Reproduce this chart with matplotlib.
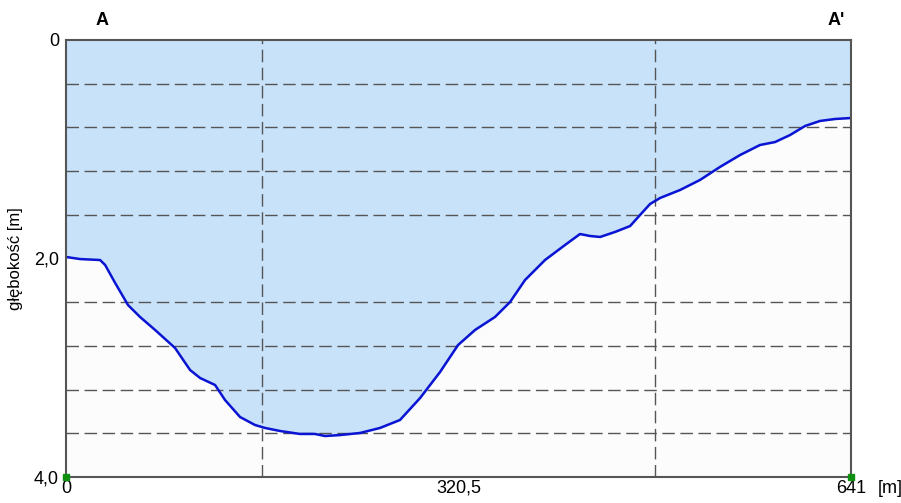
import matplotlib
matplotlib.use("Agg")
import matplotlib.pyplot as plt
from matplotlib.ticker import MultipleLocator

plt.rcParams['font.family'] = ['Liberation Sans', 'DejaVu Sans']

# profile A - A' : distance [m] vs depth [m]
distance = [0, 11.4, 27.8, 31.9, 40.1, 50.6, 60.4, 72.7, 89.0, 101.3, 109.5,
            121.7, 129.8, 142.1, 154.3, 162.5, 174.8, 191.1, 203.3, 211.5,
            223.7, 240.1, 256.4, 272.7, 289.1, 305.4, 320.1, 334.0, 350.3,
            362.6, 374.8, 391.1, 407.5, 419.7, 427.9, 436.1, 448.3, 460.6,
            468.7, 476.9, 485.1, 501.4, 517.7, 534.0, 550.4, 566.7, 579.0,
            591.2, 603.5, 615.7, 628.0, 641.0]
depth = [1.986, 2.005, 2.014, 2.059, 2.224, 2.426, 2.535, 2.654, 2.819, 3.021,
         3.094, 3.158, 3.295, 3.451, 3.524, 3.551, 3.579, 3.606, 3.606, 3.625,
         3.616, 3.597, 3.551, 3.478, 3.277, 3.039, 2.792, 2.654, 2.535, 2.398,
         2.197, 2.014, 1.876, 1.776, 1.794, 1.803, 1.757, 1.703, 1.602, 1.501,
         1.446, 1.373, 1.281, 1.162, 1.053, 0.961, 0.934, 0.870, 0.787, 0.741,
         0.723, 0.714]

x_ticks = [0, 320.5, 641]
x_labels = ['0', '320,5', '641']
y_ticks = [0, 2, 4]
y_labels = ['0', '2,0', '4,0']

fig = plt.figure(figsize=(9.01, 5.03), dpi=100)
ax = fig.add_axes([0.0733, 0.0517, 0.8712, 0.8688])
ax.set_facecolor('#fcfcfc')

ax.fill_between(distance, 0, depth, color='#c8e2fa', zorder=1)
ax.plot(distance, depth, color='#0a14d2', lw=1.8, zorder=3)

ax.set_xlim(0, 641)
ax.set_ylim(4, 0)

ax.set_xticks(x_ticks)
ax.set_xticklabels(x_labels, fontsize=13)
ax.set_yticks(y_ticks)
ax.set_yticklabels(y_labels, fontsize=13)
ax.xaxis.set_minor_locator(MultipleLocator(160.25))
ax.yaxis.set_minor_locator(MultipleLocator(0.4))
ax.tick_params(which='both', length=0)
ax.tick_params(axis='x', pad=2)
ax.tick_params(axis='y', pad=5)

ax.grid(which='minor', color='#555555', lw=1, linestyle=(0, (9, 4)), zorder=2)
ax.set_axisbelow(False)

for s in ax.spines.values():
    s.set_color('#555555')
    s.set_linewidth(1.5)
    s.set_zorder(4)

ax.set_ylabel('głębokość [m]', fontsize=12, labelpad=8)

# unit label next to the last x tick
ax.annotate('[m]', xy=(641, 4), xytext=(19, -2), textcoords='offset points',
            fontsize=13, ha='left', va='top', annotation_clip=False)

# endpoint markers
ax.plot([0, 641], [4, 4], ls='none', marker='s', ms=4, color='#109010',
        clip_on=False, zorder=5)

ax.text(24, -0.1, 'A', fontsize=13, fontweight='bold', ha='left', va='bottom')
ax.text(622, -0.1, "A'", fontsize=13, fontweight='bold', ha='left', va='bottom')

fig.savefig('out.png', dpi=100)
